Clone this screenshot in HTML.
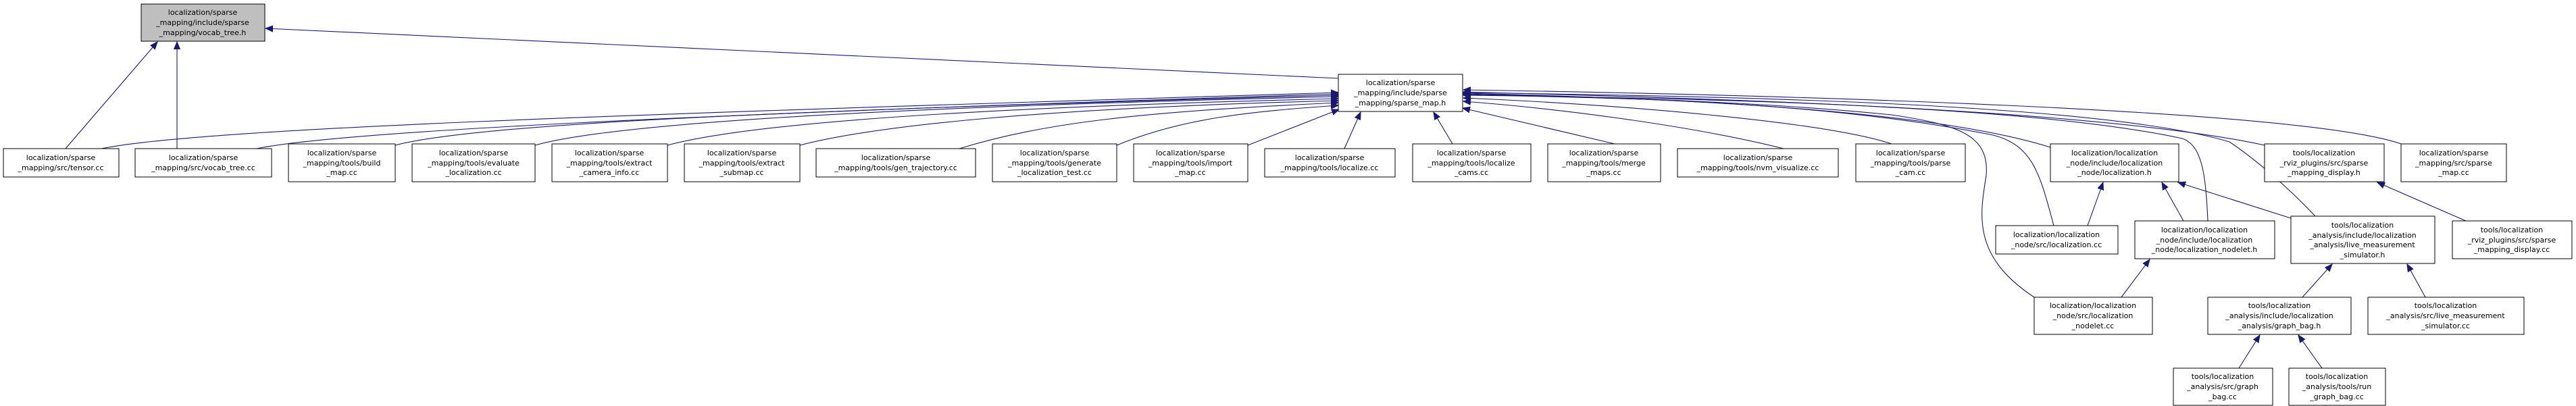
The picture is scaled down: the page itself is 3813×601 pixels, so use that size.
<!DOCTYPE html>
<html><head><meta charset="utf-8"><style>
html,body{margin:0;padding:0;background:#fff;}
svg{display:block}
text{font-family:"DejaVu Sans","Liberation Sans",sans-serif;font-size:11px;fill:#000;text-anchor:middle}
rect{stroke:#000;stroke-width:1;fill:#fff}
path.e{fill:none;stroke:#191970;stroke-width:1.1}
</style></head><body>
<svg width="3813" height="601" viewBox="0 0 3813 601" xmlns="http://www.w3.org/2000/svg">
<defs><marker id="a" markerUnits="userSpaceOnUse" markerWidth="12" markerHeight="10" refX="11" refY="5" orient="auto"><path d="M0,0.5 L11,5 L0,9.5 z" fill="#191970" stroke="#191970"/></marker></defs>

<!-- edges -->
<g>
<path class="e" marker-end="url(#a)" d="M97,220 L233,62"/>
<path class="e" marker-end="url(#a)" d="M262,220 L262,62"/>
<path class="e" marker-end="url(#a)" d="M1981,116 L393,42"/>
<path class="e" marker-end="url(#a)" d="M150,220 C300,190 900,170 1981,137"/>
<path class="e" marker-end="url(#a)" d="M380,220 C500,195 1000,170 1981,139"/>
<path class="e" marker-end="url(#a)" d="M585,215 C700,185 1100,165 1981,141"/>
<path class="e" marker-end="url(#a)" d="M792,215 C900,185 1250,160 1981,143"/>
<path class="e" marker-end="url(#a)" d="M988,215 C1100,185 1400,160 1981,146"/>
<path class="e" marker-end="url(#a)" d="M1184,215 C1300,185 1550,160 1981,149"/>
<path class="e" marker-end="url(#a)" d="M1420,220 C1550,180 1700,165 1981,152"/>
<path class="e" marker-end="url(#a)" d="M1653,215 C1750,175 1850,165 1981,156"/>
<path class="e" marker-end="url(#a)" d="M1847,215 L1982,162"/>
<path class="e" marker-end="url(#a)" d="M1990,220 L2014,166"/>
<path class="e" marker-end="url(#a)" d="M2150,213 L2122,166"/>
<path class="e" marker-end="url(#a)" d="M2390,213 L2165,160"/>
<path class="e" marker-end="url(#a)" d="M2640,220 C2500,185 2300,160 2166,150"/>
<path class="e" marker-end="url(#a)" d="M2800,213 C2700,180 2400,155 2166,145"/>
<path class="e" marker-end="url(#a)" d="M3035,218 C2850,160 2450,145 2166,138"/>
<path class="e" marker-end="url(#a)" d="M3352,215 C3100,160 2500,145 2166,136"/>
<path class="e" marker-end="url(#a)" d="M3554,213 C3400,160 2600,140 2166,133"/>
<path class="e" marker-end="url(#a)" d="M3040,334 C3020,260 3010,215 2950,200 C2700,150 2400,145 2166,139"/>
<path class="e" marker-end="url(#a)" d="M3011,440 C2920,380 2930,320 2940,260 C2945,200 2900,185 2800,170 C2600,150 2400,145 2166,140"/>
<path class="e" marker-end="url(#a)" d="M3268,327 C3265,260 3260,215 3230,205 C3000,155 2500,145 2166,141"/>
<path class="e" marker-end="url(#a)" d="M3427,320 C3380,270 3330,230 3300,210 C3100,150 2500,142 2166,137"/>
<path class="e" marker-end="url(#a)" d="M3090,334 L3113,270"/>
<path class="e" marker-end="url(#a)" d="M3232,327 L3200,270"/>
<path class="e" marker-end="url(#a)" d="M3391,323 L3224,270"/>
<path class="e" marker-end="url(#a)" d="M3650,327 L3519,270"/>
<path class="e" marker-end="url(#a)" d="M3140,440 L3182,384"/>
<path class="e" marker-end="url(#a)" d="M3408,440 L3452,391"/>
<path class="e" marker-end="url(#a)" d="M3590,440 L3563,391"/>
<path class="e" marker-end="url(#a)" d="M3314,545 L3345,496"/>
<path class="e" marker-end="url(#a)" d="M3437,545 L3402,496"/>
</g>

<!-- nodes -->
<rect x="209" y="6" width="183" height="55" style="fill:#bfbfbf"/>
<text x="300" y="22">localization/sparse</text><text x="300" y="37">_mapping/include/sparse</text><text x="300" y="52">_mapping/vocab_tree.h</text>

<rect x="1981" y="110" width="184" height="55"/>
<text x="2073" y="126">localization/sparse</text><text x="2073" y="141">_mapping/include/sparse</text><text x="2073" y="156">_mapping/sparse_map.h</text>

<rect x="5" y="220" width="171" height="42"/>
<text x="90" y="237">localization/sparse</text><text x="90" y="252">_mapping/src/tensor.cc</text>
<rect x="200" y="220" width="202" height="42"/>
<text x="301" y="237">localization/sparse</text><text x="301" y="252">_mapping/src/vocab_tree.cc</text>
<rect x="427" y="213" width="158" height="56"/>
<text x="506" y="230">localization/sparse</text><text x="506" y="245">_mapping/tools/build</text><text x="506" y="259">_map.cc</text>
<rect x="610" y="213" width="182" height="56"/>
<text x="701" y="230">localization/sparse</text><text x="701" y="245">_mapping/tools/evaluate</text><text x="701" y="259">_localization.cc</text>
<rect x="817" y="213" width="171" height="56"/>
<text x="902" y="230">localization/sparse</text><text x="902" y="245">_mapping/tools/extract</text><text x="902" y="259">_camera_info.cc</text>
<rect x="1013" y="213" width="171" height="56"/>
<text x="1098" y="230">localization/sparse</text><text x="1098" y="245">_mapping/tools/extract</text><text x="1098" y="259">_submap.cc</text>
<rect x="1208" y="220" width="236" height="42"/>
<text x="1326" y="237">localization/sparse</text><text x="1326" y="252">_mapping/tools/gen_trajectory.cc</text>
<rect x="1469" y="213" width="184" height="56"/>
<text x="1561" y="230">localization/sparse</text><text x="1561" y="245">_mapping/tools/generate</text><text x="1561" y="259">_localization_test.cc</text>
<rect x="1678" y="213" width="169" height="56"/>
<text x="1762" y="230">localization/sparse</text><text x="1762" y="245">_mapping/tools/import</text><text x="1762" y="259">_map.cc</text>
<rect x="1872" y="220" width="193" height="42"/>
<text x="1968" y="237">localization/sparse</text><text x="1968" y="252">_mapping/tools/localize.cc</text>
<rect x="2091" y="213" width="175" height="56"/>
<text x="2178" y="230">localization/sparse</text><text x="2178" y="245">_mapping/tools/localize</text><text x="2178" y="259">_cams.cc</text>
<rect x="2291" y="213" width="167" height="56"/>
<text x="2374" y="230">localization/sparse</text><text x="2374" y="245">_mapping/tools/merge</text><text x="2374" y="259">_maps.cc</text>
<rect x="2483" y="220" width="238" height="42"/>
<text x="2602" y="237">localization/sparse</text><text x="2602" y="252">_mapping/tools/nvm_visualize.cc</text>
<rect x="2747" y="213" width="162" height="56"/>
<text x="2828" y="230">localization/sparse</text><text x="2828" y="245">_mapping/tools/parse</text><text x="2828" y="259">_cam.cc</text>
<rect x="3035" y="213" width="190" height="56"/>
<text x="3130" y="230">localization/localization</text><text x="3130" y="245">_node/include/localization</text><text x="3130" y="259">_node/localization.h</text>
<rect x="3352" y="213" width="177" height="56"/>
<text x="3440" y="230">tools/localization</text><text x="3440" y="245">_rviz_plugins/src/sparse</text><text x="3440" y="259">_mapping_display.h</text>
<rect x="3554" y="213" width="156" height="56"/>
<text x="3632" y="230">localization/sparse</text><text x="3632" y="245">_mapping/src/sparse</text><text x="3632" y="259">_map.cc</text>

<rect x="2954" y="334" width="181" height="42"/>
<text x="3044" y="351">localization/localization</text><text x="3044" y="366">_node/src/localization.cc</text>
<rect x="3160" y="327" width="207" height="56"/>
<text x="3263" y="344">localization/localization</text><text x="3263" y="359">_node/include/localization</text><text x="3263" y="373">_node/localization_nodelet.h</text>
<rect x="3391" y="320" width="213" height="70"/>
<text x="3497" y="337">tools/localization</text><text x="3497" y="352">_analysis/include/localization</text><text x="3497" y="366">_analysis/live_measurement</text><text x="3497" y="381">_simulator.h</text>
<rect x="3630" y="327" width="177" height="56"/>
<text x="3718" y="344">tools/localization</text><text x="3718" y="359">_rviz_plugins/src/sparse</text><text x="3718" y="373">_mapping_display.cc</text>

<rect x="3011" y="440" width="175" height="55"/>
<text x="3098" y="456">localization/localization</text><text x="3098" y="471">_node/src/localization</text><text x="3098" y="486">_nodelet.cc</text>
<rect x="3268" y="440" width="212" height="55"/>
<text x="3374" y="456">tools/localization</text><text x="3374" y="471">_analysis/include/localization</text><text x="3374" y="486">_analysis/graph_bag.h</text>
<rect x="3505" y="440" width="231" height="55"/>
<text x="3620" y="456">tools/localization</text><text x="3620" y="471">_analysis/src/live_measurement</text><text x="3620" y="486">_simulator.cc</text>

<rect x="3217" y="545" width="147" height="55"/>
<text x="3290" y="561">tools/localization</text><text x="3290" y="576">_analysis/src/graph</text><text x="3290" y="591">_bag.cc</text>
<rect x="3388" y="545" width="143" height="55"/>
<text x="3459" y="561">tools/localization</text><text x="3459" y="576">_analysis/tools/run</text><text x="3459" y="591">_graph_bag.cc</text>
</svg>
</body></html>
